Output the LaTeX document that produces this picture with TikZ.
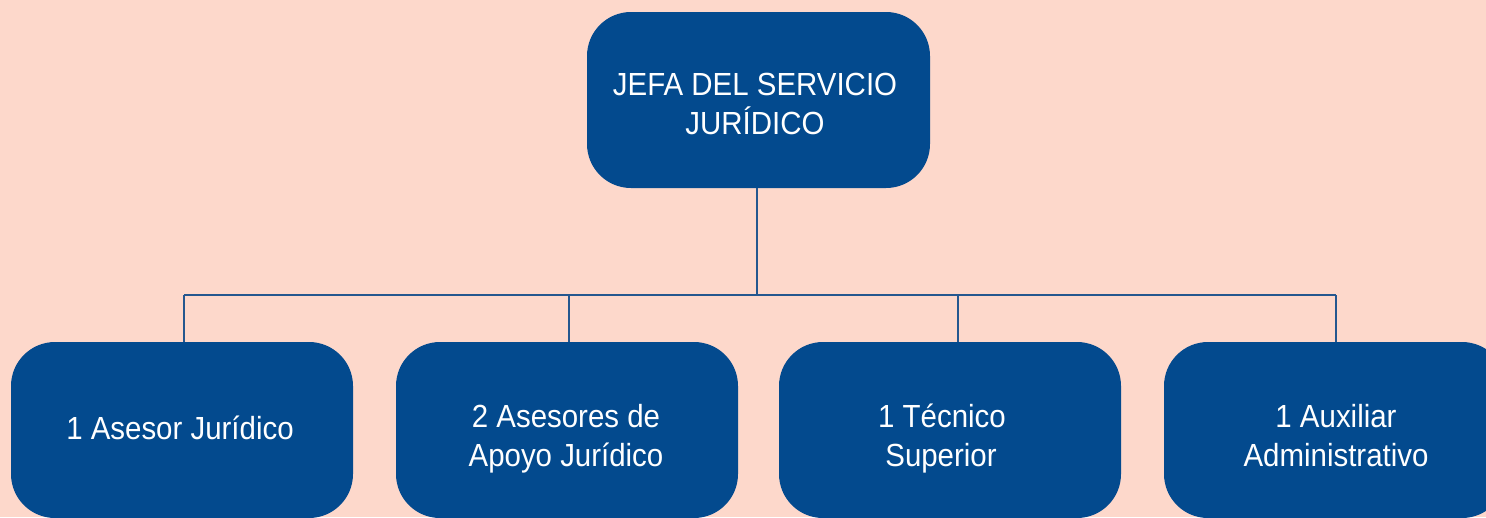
\documentclass[tikz,border=0pt]{standalone}
\usepackage{fontspec}
\setmainfont[FakeStretch=0.92]{Liberation Sans}
\definecolor{bg}{HTML}{FDD8CB}
\definecolor{boxblue}{HTML}{034A8E}
\definecolor{linkblue}{HTML}{24578F}
\tikzset{
  orgbox/.style={fill=boxblue, draw=none, rounded corners=44pt, minimum width=342pt, minimum height=176pt,
    text=white, align=center, font=\fontsize{32}{39}\selectfont, inner sep=0pt},
  link/.style={draw=linkblue, line width=1.8pt}
}
\begin{document}
\begin{tikzpicture}[x=1pt,y=-1pt]
\useasboundingbox (0,0) rectangle (1486,517);
\clip (0,0) rectangle (1486,517);
\fill[bg] (0,0) rectangle (1486,517);
\node[orgbox, minimum width=343pt] (top) at (758.5,100) {};
\node[text=white, align=center, font=\fontsize{32}{39}\selectfont, inner sep=0pt] (toptext) at (755,104) {JEFA DEL SERVICIO\\JURÍDICO};
\node[orgbox] (b1) at (182,430) {};
\node[text=white, font=\fontsize{32}{39}\selectfont, inner sep=0pt, anchor=base] (t1) at (180,439) {1 Asesor Jurídico};
\node[orgbox] (b2) at (567,430) {};
\node[text=white, font=\fontsize{32}{39}\selectfont, inner sep=0pt, anchor=base] (t2a) at (566,427) {2 Asesores de};
\node[text=white, font=\fontsize{32}{39}\selectfont, inner sep=0pt, anchor=base] (t2b) at (566,466) {Apoyo Jurídico};
\node[orgbox] (b3) at (950,430) {};
\node[text=white, font=\fontsize{32}{39}\selectfont, inner sep=0pt, anchor=base] (t3a) at (942,427) {1 Técnico};
\node[text=white, font=\fontsize{32}{39}\selectfont, inner sep=0pt, anchor=base] (t3b) at (941,466) {Superior};
\node[orgbox] (b4) at (1335,430) {};
\node[text=white, font=\fontsize{32}{39}\selectfont, inner sep=0pt, anchor=base] (t4a) at (1336,427) {1 Auxiliar};
\node[text=white, font=\fontsize{32}{39}\selectfont, inner sep=0pt, anchor=base] (t4b) at (1336,466) {Administrativo};
\coordinate (hub) at (757,295);
\coordinate (h1) at (184,295);
\coordinate (h2) at (569,295);
\coordinate (h3) at (958,295);
\coordinate (h4) at (1336,295);
\draw[link] (top.south -| hub) -- (hub);
\draw[link] (h1) -- (h4);
\draw[link] (h1) -- (h1 |- b1.north);
\draw[link] (h2) -- (h2 |- b2.north);
\draw[link] (h3) -- (h3 |- b3.north);
\draw[link] (h4) -- (h4 |- b4.north);
\end{tikzpicture}
\end{document}
